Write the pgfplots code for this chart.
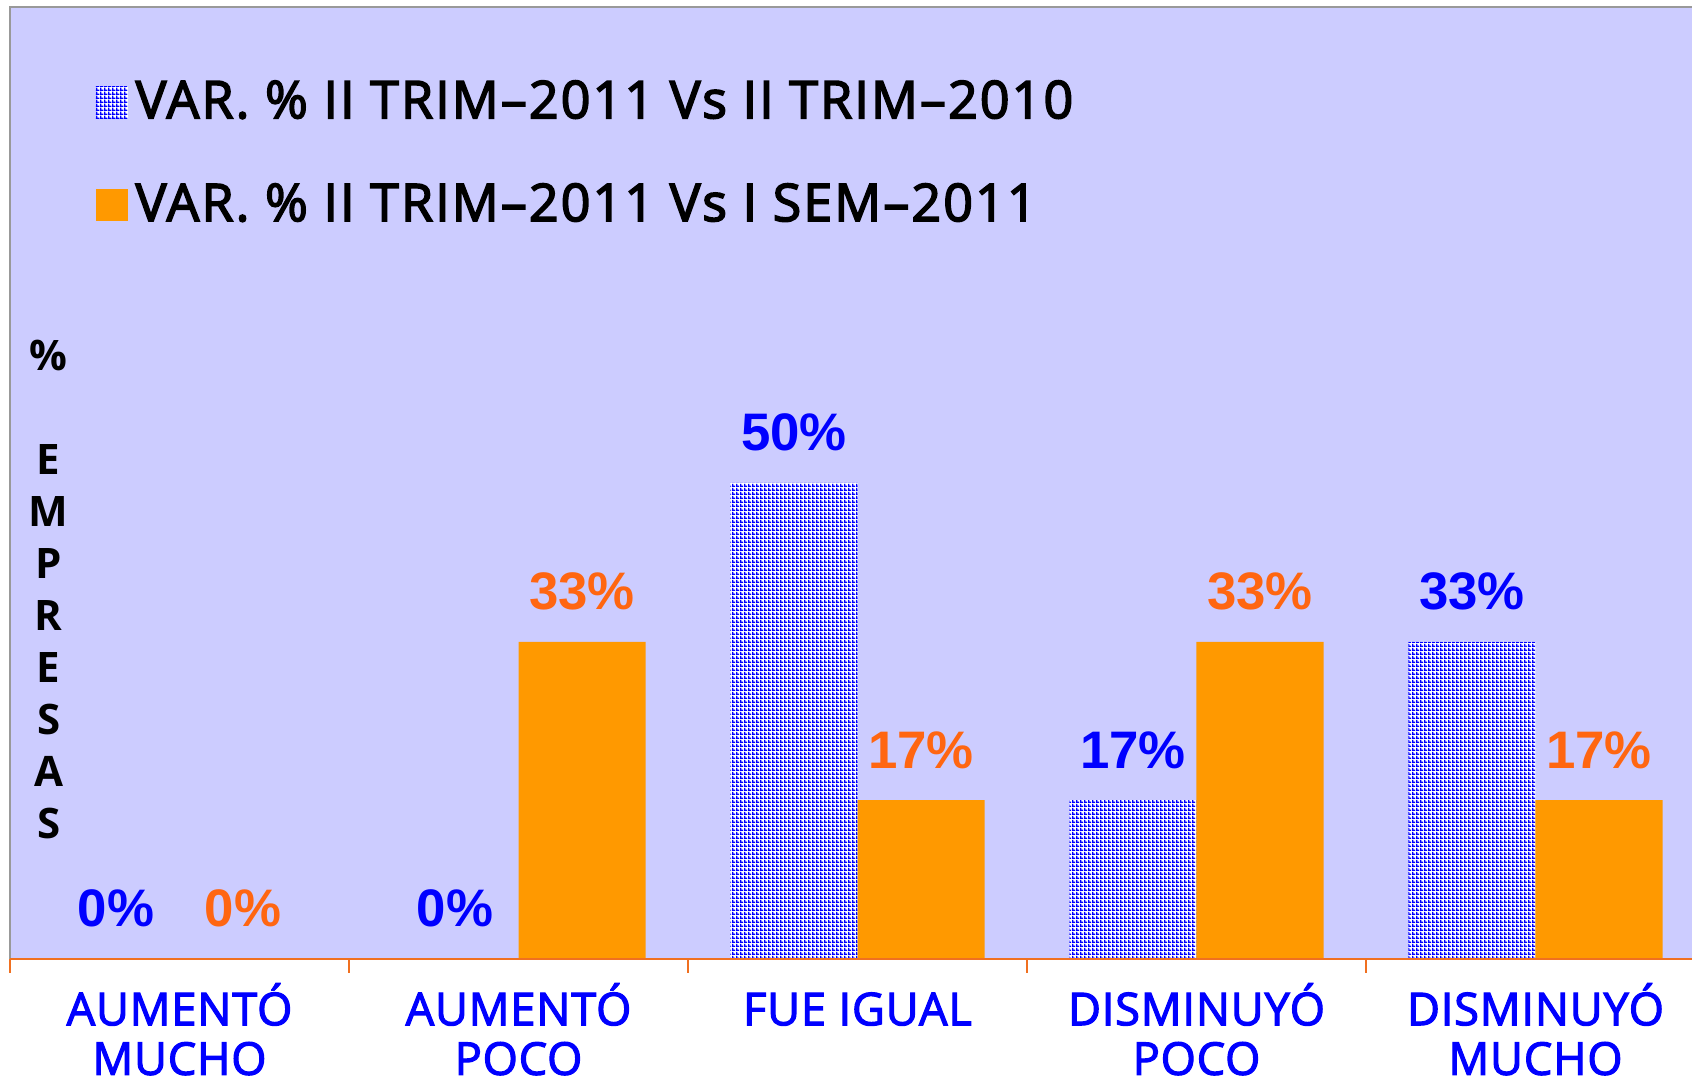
\documentclass[border=0pt]{standalone}
\usepackage{pgfplots}
\pgfplotsset{compat=1.18}
\usepackage{fontspec}
\usetikzlibrary{patterns}
\newfontfamily\legfont[LetterSpace=4.0,FakeBold=3]{Open Sans}
\newfontfamily\catfont[LetterSpace=1.8,FakeBold=2.5]{Open Sans}
\newfontfamily\ylfont{Open Sans}
\newfontfamily\valfont{Liberation Sans}
\definecolor{bgl}{HTML}{CCCCFF}
\definecolor{obar}{HTML}{FF9900}
\definecolor{olab}{HTML}{FF6611}
\definecolor{blab}{HTML}{0000FF}
\definecolor{oaxis}{HTML}{F07020}
\pgfdeclarepatternformonly{finegrid}{\pgfpointorigin}{\pgfpoint{1pt}{1pt}}{\pgfpoint{1pt}{1pt}}{%
 \pgfpathrectangle{\pgfpointorigin}{\pgfpoint{1pt}{0.45pt}}%
 \pgfpathrectangle{\pgfpointorigin}{\pgfpoint{0.45pt}{1pt}}%
 \pgfusepath{fill}}
\begin{document}
\begin{tikzpicture}
\useasboundingbox (0,0) rectangle (423pt,269.75pt);
\begin{axis}[
 at={(2.5pt,30pt)}, anchor=south west,
 scale only axis, width=423.75pt, height=238pt,
 xmin=-0.5, xmax=4.5, ymin=0, ymax=100,
 ybar=0pt, bar width=31.75pt,
 axis background/.style={fill=bgl},
 axis line style={draw=none},
 ytick=\empty,
 xtick={0,1,2,3,4},
 xticklabels={AUMENTÓ\\MUCHO, AUMENTÓ\\POCO, \vphantom{Ó}FUE IGUAL, DISMINUYÓ\\POCO, DISMINUYÓ\\MUCHO},
 xticklabel style={align=center, text=blab, font=\catfont\fontsize{11.3}{12.4}\selectfont, anchor=north, yshift=-2.5pt},
 major tick length=0pt,
 minor xtick={-0.5,0.5,1.5,2.5,3.5,4.5},
 minor tick length=3.5pt,
 tick align=outside, xtick pos=bottom,
 minor tick style={draw=oaxis, line width=0.6pt},
 clip=false,
 nodes near coords={\pgfmathprintnumber[fixed,precision=0,assume math mode=true]{\pgfplotspointmeta}\%},
 every node near coord/.append style={anchor=base, yshift=8pt, font=\valfont\bfseries\fontsize{13.2}{15}\selectfont},
 ylabel={\%\\[13pt]E\\M\\P\\R\\E\\S\\A\\S},
 every axis y label/.style={at={(rel axis cs:0.0228,0.665)}, anchor=north, align=center, font=\ylfont\bfseries\fontsize{10.5}{13}\selectfont},
 legend image code/.code={\fill[#1] (0pt,-4pt) rectangle (8pt,4pt);},
 legend style={at={(rel axis cs:0.05,0.932)}, anchor=north west, draw=none, fill=none,
   font=\legfont\fontsize{13}{15}\selectfont, row sep=10.8pt, inner sep=0pt},
 legend cell align=left,
]
\addplot[draw=none, fill=white, postaction={pattern=finegrid, pattern color=blab},
  every node near coord/.append style={text=blab}]
  coordinates {(0,0) (1,0) (2,50) (3,16.7) (4,33.3)};
\addplot[draw=none, fill=obar, every node near coord/.append style={text=olab}]
  coordinates {(0,0) (1,33.3) (2,16.7) (3,33.3) (4,16.7)};
\legend{VAR. \% II TRIM–2011 Vs II TRIM–2010, VAR. \% II TRIM–2011 Vs I SEM–2011}
\draw[gray!80, line width=0.6pt] (rel axis cs:0,0) -- (rel axis cs:0,1) -- (rel axis cs:1,1);
\draw[oaxis, line width=0.7pt] (rel axis cs:0,0) -- (rel axis cs:1,0);
\end{axis}
\end{tikzpicture}
\end{document}
